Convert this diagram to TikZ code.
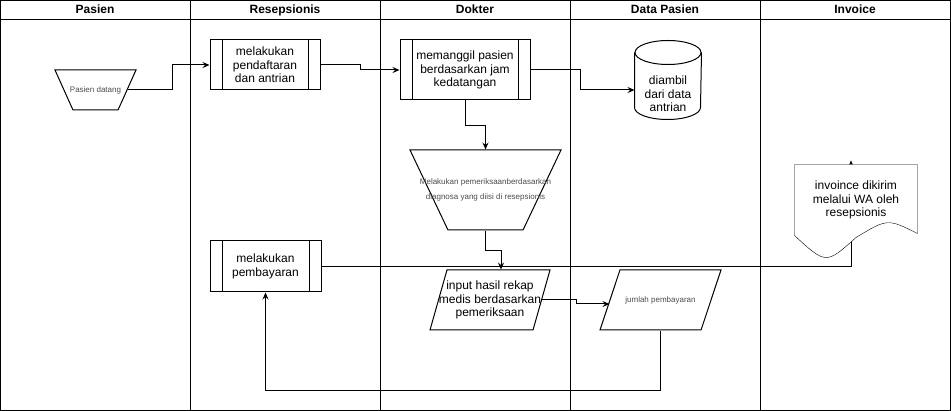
\documentclass[tikz,border=0pt]{standalone}
\usepackage{fontspec}
\setmainfont{Liberation Sans}
\usetikzlibrary{shapes.geometric,arrows.meta}
\pgfdeclarelayer{back}
\pgfsetlayers{back,main}

\begin{document}
\begin{tikzpicture}[x=1pt,y=-1pt,line width=1pt,
  lane head/.style={font=\fontsize{12}{14}\selectfont\bfseries,text height=9pt,text depth=2.5pt},
  text node/.style={font=\fontsize{12}{13.5}\selectfont,align=center,inner sep=0pt},
  small text/.style={font=\fontsize{8}{9.5}\selectfont,text=black!70,align=center},
  proc node/.style={text node,rectangle,draw,fill=white,
    path picture={\draw ([xshift=12pt]path picture bounding box.north west) -- ([xshift=12pt]path picture bounding box.south west)
      ([xshift=-12pt]path picture bounding box.north east) -- ([xshift=-12pt]path picture bounding box.south east);}},
  trap node/.style={trapezium,draw,fill=white,inner xsep=1pt,text height=0pt,text depth=0pt,
    shape border rotate=180,trapezium stretches body=true},
  io node/.style={trapezium,draw,fill=white,inner xsep=1pt,text height=0pt,text depth=0pt,trapezium stretches body=true},
  db node/.style={text node,rectangle,minimum width=66pt,minimum height=78pt,text height=66pt,text depth=2.5pt},
  doc node/.style={text node,rectangle,minimum width=122pt,minimum height=70pt},
  flow/.style={-{Stealth[length=7pt,width=6pt,inset=2.5pt]}}]
  \useasboundingbox (0,0) rectangle (951,411);
  % lanes
  \draw (0.5,0.5) rectangle (950.5,410.5);
  \draw (0.5,20) -- (950.5,20);
  \foreach \x in {190,380,570,760}
    \draw (\x,0.5) -- (\x,410.5);
  \foreach \name [count=\i] in {Pasien,Resepsionis,Dokter,Data Pasien,Invoice}
    \node[lane head] (h\i) at ({190*\i-95},10.5) {\name};
  % steps
  \node[trap node,minimum width=81pt,inner ysep=20pt,trapezium angle=65.8,
    label={[small text]center:Pasien datang}] (1) at (95.5,90) {};
  \node[proc node,minimum width=110pt,minimum height=50pt] (2) at (265,65) {melakukan\\pendaftaran\\dan antrian};
  \node[proc node,minimum width=130pt,minimum height=60pt] (3) at (465,70) {memanggil pasien\\berdasarkan jam\\kedatangan};
  \node[db node] (4) at (668,80) {diambil\\dari data\\antrian};
  \draw ([yshift=-12pt]4.north) ellipse [x radius=33,y radius=12];
  \draw ([yshift=-12pt]4.north west) -- ([yshift=12pt]4.south west) arc[start angle=180,end angle=0,x radius=33,y radius=12]
    -- ([yshift=-12pt]4.north east);
  \node[trap node,minimum width=151pt,inner ysep=40pt,trapezium angle=64.6,
    label={[small text,font=\fontsize{8}{15}\selectfont]center:Melakukan pemeriksaanberdasarkan\\diagnosa yang diisi di resepsionis}] (5) at (485.5,190) {};
  \node[io node,minimum width=120pt,inner ysep=30pt,trapezium left angle=74.2,trapezium right angle=105.8,
    label={[text node]center:input hasil rekap\\medis berdasarkan\\pemeriksaan}] (6) at (490,300) {};
  \node[io node,minimum width=121pt,inner ysep=30pt,trapezium left angle=71.6,trapezium right angle=108.4,
    label={[small text]center:jumlah pembayaran}] (7) at (660.5,300) {};
  \node[proc node,minimum width=111pt,minimum height=51pt] (8) at (265.5,266.5) {melakukan\\pembayaran};
  \node[doc node] (9) at (856,200) {invoince dikirim\\melalui WA oleh\\resepsionis};
  % connectors
  \draw[flow] (1.east) -- ++(45,0) |- (2.west);
  \draw[flow] (2.east) -- ++(40,0) |- (3.west);
  \draw[flow] (3.east) -- ++(50,0) |- ([yshift=-10pt]4.west);
  \draw[flow] (3.south) -- ++(0,25) -| (5.north);
  \draw[flow] (5.south) -- ++(0,20) -| ([xshift=11pt]6.north);
  \draw[flow] (6.east) -- ++(34,0) |- ([yshift=-4pt]7.west);
  \draw[flow] (7.south) -- ++(0,60) -| (8.south);
  \begin{pgfonlayer}{back}
    \draw[flow] (8.east) -| ([xshift=-5pt,yshift=4pt]9.north);
    \filldraw[fill=white] (9.south west) -- (9.north west) -- (9.north east) -- ([yshift=2pt]9.south east)
      .. controls ([xshift=-30pt,yshift=17pt]9.south east) .. ([yshift=-2pt]9.south)
      .. controls ([xshift=-30pt,yshift=-29pt]9.south) .. cycle;
  \end{pgfonlayer}
\end{tikzpicture}
\end{document}
